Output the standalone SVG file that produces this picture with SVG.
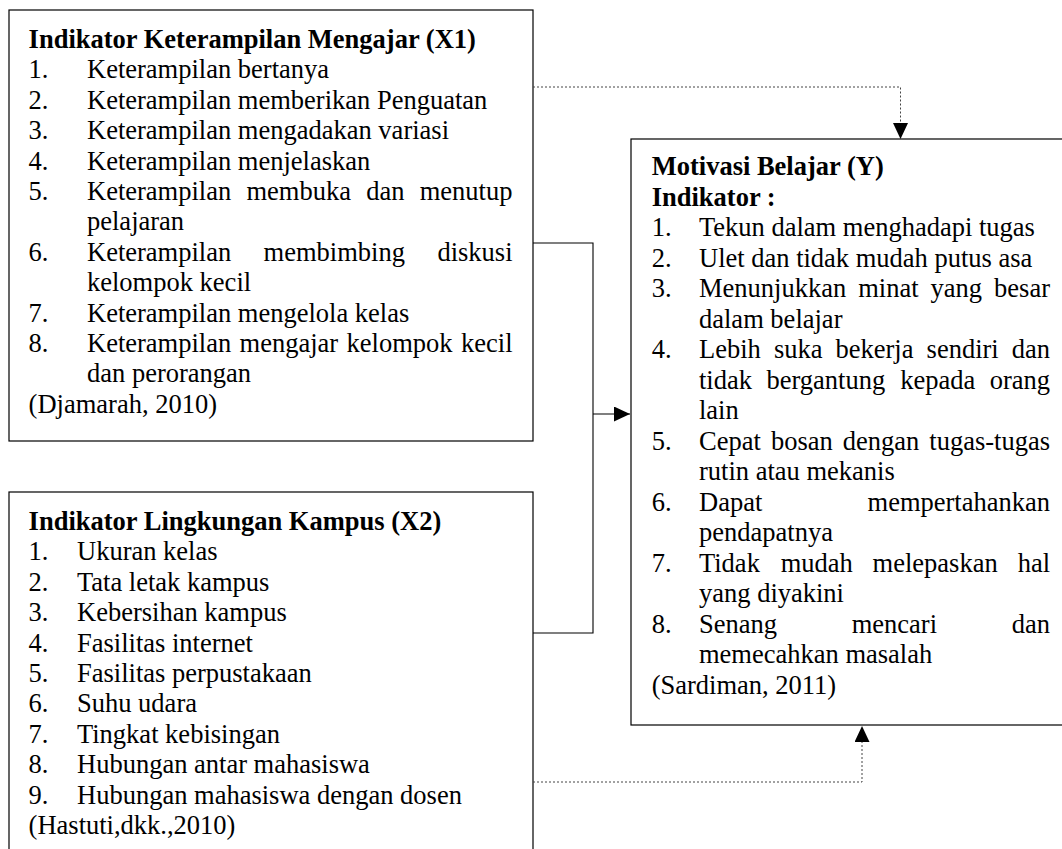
<svg xmlns="http://www.w3.org/2000/svg" width="1062" height="849" viewBox="0 0 1062 849">
<style>
  text { font-family: "Liberation Serif", "Times New Roman", serif; font-size: 26.5px; fill: #000; }
  .b { font-weight: bold; }
  .e { text-anchor: end; }
  .box { fill: #fff; stroke: #000; stroke-width: 1.2; }
  .solid { fill: none; stroke: #000; stroke-width: 1.1; }
  .dot { fill: none; stroke: #444; stroke-width: 1; stroke-dasharray: 2 2; }
</style>
<defs>
  <marker id="arr" viewBox="0 0 16 15" refX="16" refY="7.5" markerWidth="16" markerHeight="15" orient="auto" markerUnits="userSpaceOnUse">
    <path d="M0,0 L16,7.5 L0,15 z" fill="#000"/>
  </marker>
</defs>
<rect width="1062" height="849" fill="#fff"/>

<g id="x1">
  <rect class="box" x="9" y="10" width="524" height="431"/>
  <text class="b" x="28.6" y="48">Indikator Keterampilan Mengajar (X1)</text>
  <text x="28.6" y="78.4">1.</text><text x="87" y="78.4">Keterampilan bertanya</text>
  <text x="28.6" y="108.8">2.</text><text x="87" y="108.8">Keterampilan memberikan Penguatan</text>
  <text x="28.6" y="139.2">3.</text><text x="87" y="139.2">Keterampilan mengadakan variasi</text>
  <text x="28.6" y="169.6">4.</text><text x="87" y="169.6">Keterampilan menjelaskan</text>
  <text x="28.6" y="200">5.</text><text y="200"><tspan x="87">Keterampilan</tspan><tspan x="246.5">membuka</tspan><tspan x="366.2">dan</tspan></text><text class="e" x="512.5" y="200">menutup</text>
  <text x="87" y="230.4">pelajaran</text>
  <text x="28.6" y="260.8">6.</text><text y="260.8"><tspan x="87">Keterampilan</tspan><tspan x="263.6">membimbing</tspan></text><text class="e" x="512.5" y="260.8">diskusi</text>
  <text x="87" y="291.2">kelompok kecil</text>
  <text x="28.6" y="321.6">7.</text><text x="87" y="321.6">Keterampilan mengelola kelas</text>
  <text x="28.6" y="352">8.</text><text y="352"><tspan x="87">Keterampilan</tspan><tspan x="239.6">mengajar</tspan><tspan x="346.6">kelompok</tspan></text><text class="e" x="512.5" y="352">kecil</text>
  <text x="87" y="382.4">dan perorangan</text>
  <text x="28.6" y="412.8">(Djamarah, 2010)</text>
</g>

<g id="x2">
  <rect class="box" x="9" y="492" width="524" height="400"/>
  <text class="b" x="28.6" y="530">Indikator Lingkungan Kampus (X2)</text>
  <text x="28.6" y="560.4">1.</text><text x="77" y="560.4">Ukuran kelas</text>
  <text x="28.6" y="590.8">2.</text><text x="77" y="590.8">Tata letak kampus</text>
  <text x="28.6" y="621.2">3.</text><text x="77" y="621.2">Kebersihan kampus</text>
  <text x="28.6" y="651.6">4.</text><text x="77" y="651.6">Fasilitas internet</text>
  <text x="28.6" y="682">5.</text><text x="77" y="682">Fasilitas perpustakaan</text>
  <text x="28.6" y="712.4">6.</text><text x="77" y="712.4">Suhu udara</text>
  <text x="28.6" y="742.8">7.</text><text x="77" y="742.8">Tingkat kebisingan</text>
  <text x="28.6" y="773.2">8.</text><text x="77" y="773.2">Hubungan antar mahasiswa</text>
  <text x="28.6" y="803.6">9.</text><text x="77" y="803.6">Hubungan mahasiswa dengan dosen</text>
  <text x="28.6" y="834">(Hastuti,dkk.,2010)</text>
</g>

<g id="y">
  <rect class="box" x="631" y="139" width="450" height="586"/>
  <text class="b" x="651.7" y="175">Motivasi Belajar (Y)</text>
  <text class="b" x="651.7" y="205.5">Indikator :</text>
  <text x="651.7" y="236">1.</text><text x="699" y="236">Tekun dalam menghadapi tugas</text>
  <text x="651.7" y="266.5">2.</text><text x="699" y="266.5">Ulet dan tidak mudah putus asa</text>
  <text x="651.7" y="297">3.</text><text y="297"><tspan x="699">Menunjukkan</tspan><tspan x="858.2">minat</tspan><tspan x="930.6">yang</tspan></text><text class="e" x="1050" y="297">besar</text>
  <text x="699" y="327.5">dalam belajar</text>
  <text x="651.7" y="358">4.</text><text y="358"><tspan x="699">Lebih</tspan><tspan x="773.9">suka</tspan><tspan x="835.5">bekerja</tspan><tspan x="926.6">sendiri</tspan></text><text class="e" x="1050" y="358">dan</text>
  <text y="388.5"><tspan x="699">tidak</tspan><tspan x="766.5">bergantung</tspan><tspan x="900.2">kepada</tspan></text><text class="e" x="1050" y="388.5">orang</text>
  <text x="699" y="419">lain</text>
  <text x="651.7" y="449.5">5.</text><text y="449.5"><tspan x="699">Cepat</tspan><tspan x="770.9">bosan</tspan><tspan x="842.8">dengan</tspan></text><text class="e" x="1050" y="449.5">tugas-tugas</text>
  <text x="699" y="480">rutin atau mekanis</text>
  <text x="651.7" y="510.5">6.</text><text x="699" y="510.5">Dapat</text><text class="e" x="1050" y="510.5">mempertahankan</text>
  <text x="699" y="541">pendapatnya</text>
  <text x="651.7" y="571.5">7.</text><text y="571.5"><tspan x="699">Tidak</tspan><tspan x="780.7">mudah</tspan><tspan x="872.6">melepaskan</tspan></text><text class="e" x="1050" y="571.5">hal</text>
  <text x="699" y="602">yang diyakini</text>
  <text x="651.7" y="632.5">8.</text><text y="632.5"><tspan x="699">Senang</tspan><tspan x="851.7">mencari</tspan></text><text class="e" x="1050" y="632.5">dan</text>
  <text x="699" y="663">memecahkan masalah</text>
  <text x="651.7" y="693.5">(Sardiman, 2011)</text>
</g>

<g id="connectors">
  <path class="dot" d="M533,87 H900.5 V130" />
  <path d="M900.5,123 V139" fill="none" stroke="none" marker-end="url(#arr)"/>
  <path class="solid" d="M533,243 H593 V633 H533"/>
  <path class="solid" d="M593,414 H630" marker-end="url(#arr)"/>
  <path class="dot" d="M533,782 H862 V735" />
  <path d="M862,741 V726" fill="none" stroke="none" marker-end="url(#arr)"/>
</g>
</svg>
